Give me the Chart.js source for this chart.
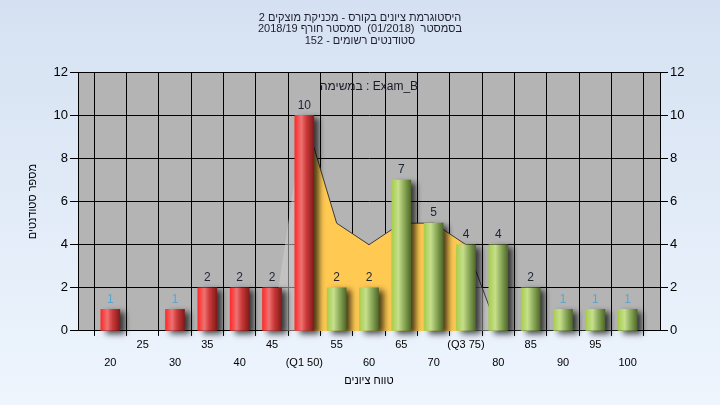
<!DOCTYPE html>
<html>
<head>
<meta charset="utf-8">
<script src="https://cdn.jsdelivr.net/npm/chart.js@4/dist/chart.umd.min.js"></script>
<style>
	body { margin: 0; }
	#wrap { width: 720px; height: 405px; background: linear-gradient(#d5e1f2, #eef5fd); }
</style>
</head>
<body>
<div id="wrap"><canvas id="canvas"></canvas></div>
<script>
// grade buckets and number of students in each
var scores = [20, 25, 30, 35, 40, 45, 50, 55, 60, 65, 70, 75, 80, 85, 90, 95, 100];
var counts = [1, 0, 1, 2, 2, 2, 10, 2, 2, 7, 5, 4, 4, 2, 1, 1, 1];
// background curve (yellow between Q1 and Q3)
var curve = [0, 0, 0, 0, 0, 0, 10, 5, 4, 5, 5, 4, 0, 0, 0, 0, 0];
var Q1 = 50, Q3 = 75;
var xMin = 15, xMax = 105, xStep = 5;
var yMax = 12, yStep = 2;

var titleLines = [
	'היסטוגרמת ציונים בקורס - מכניקת מוצקים 2',
	'בסמסטר  (01/2018)  סמסטר חורף 2018/19',
	'סטודנטים רשומים - 152'
];
var xTitle = 'טווח ציונים';
var yTitle = 'מספר סטודנטים';
var examText = 'במשימה : Exam_B';

var FONT = "'Liberation Sans', Arial, sans-serif";

function tickText(v) {
	if (v <= xMin || v >= xMax) return '';
	var t = String(v);
	if (v == Q1) t = '(Q1 ' + v + ')';
	if (v == Q3) t = '(Q3 ' + v + ')';
	// staggered rows like the original
	if ((v / xStep) % 2 == 1) return t;
	return ['', t];
}

function barFill(c) {
	var chart = c.chart;
	if (!chart.chartArea || c.dataIndex === undefined) return '#e03030';
	var v = scores[c.dataIndex];
	var x = chart.scales.x.getPixelForValue(v);
	var g = chart.ctx.createLinearGradient(x - 10, 0, x + 10, 0);
	if (v <= Q1) {
		g.addColorStop(0, '#ff2626');
		g.addColorStop(0.35, '#ee7272');
		g.addColorStop(0.6, '#cc3a3a');
		g.addColorStop(1, '#7d1818');
	} else {
		g.addColorStop(0, '#a6cc48');
		g.addColorStop(0.35, '#c6df8c');
		g.addColorStop(0.65, '#8aa858');
		g.addColorStop(1, '#4b6426');
	}
	return g;
}

var plotBg = {
	id: 'plotBg',
	beforeDraw: function(chart) {
		var a = chart.chartArea, ctx = chart.ctx;
		ctx.save();
		ctx.fillStyle = '#b4b4b4';
		ctx.fillRect(a.left, a.top, a.right - a.left, a.bottom - a.top);
		ctx.restore();
	}
};

var barShadow = {
	id: 'barShadow',
	beforeDatasetDraw: function(chart, args) {
		if (args.index != 0) return;
		var ctx = chart.ctx;
		ctx.save();
		ctx.shadowColor = 'rgba(0,0,0,0.7)';
		ctx.shadowBlur = 6;
		ctx.shadowOffsetX = 5;
		ctx.shadowOffsetY = 3;
	},
	afterDatasetDraw: function(chart, args) {
		if (args.index != 0) return;
		chart.ctx.restore();
	}
};

var texts = {
	id: 'texts',
	afterDatasetsDraw: function(chart) {
		var ctx = chart.ctx;
		var a = chart.chartArea;
		var cx = (a.left + a.right) / 2;
		var meta = chart.getDatasetMeta(0);
		ctx.save();
		ctx.font = '12px ' + FONT;
		ctx.textAlign = 'center';
		ctx.textBaseline = 'bottom';
		meta.data.forEach(function(bar, i) {
			if (!counts[i]) return;
			ctx.fillStyle = counts[i] == 1 ? '#5aa6cc' : '#1c2433';
			ctx.fillText(String(counts[i]), bar.x, bar.y - 4);
		});
		ctx.textBaseline = 'middle';
		// exam name at top of plot
		ctx.fillStyle = '#1a1a2a';
		ctx.fillText(examText, cx, a.top + 14);
		// title
		ctx.font = '11px ' + FONT;
		ctx.fillStyle = '#1e1e2e';
		titleLines.forEach(function(t, i) {
			ctx.fillText(t, chart.width / 2, 17.5 + i * 11.8);
		});
		// axis titles
		ctx.fillStyle = '#000';
		ctx.fillText(xTitle, cx, 381);
		ctx.translate(33, (a.top + a.bottom) / 2);
		ctx.rotate(-Math.PI / 2);
		ctx.fillText(yTitle, 0, 0);
		ctx.restore();
	}
};

var ctx = document.getElementById('canvas');
new Chart(ctx, {
	type: 'bar',
	data: {
		datasets: [{
			type: 'bar',
			data: scores.map(function(s, i) { return {x: s, y: counts[i] || null}; }),
			backgroundColor: barFill,
			barThickness: 19,
			clip: false,
			order: 1
		}, {
			type: 'line',
			data: scores.map(function(s, i) { return {x: s, y: curve[i]}; }),
			borderColor: '#3a3a3a',
			borderWidth: 1,
			pointRadius: 0,
			tension: 0,
			fill: 'origin',
			backgroundColor: 'rgba(206,206,206,0.55)',
			segment: {
				backgroundColor: function(c) {
					var x0 = scores[c.p0DataIndex], x1 = scores[c.p1DataIndex];
					return (x0 >= Q1 && x1 <= Q3) ? '#ffc952' : 'rgba(206,206,206,0.55)';
				},
				borderColor: function(c) {
					return scores[c.p1DataIndex] <= Q1 ? 'rgba(0,0,0,0)' : '#3a3a3a';
				}
			},
			order: 2
		}]
	},
	options: {
		responsive: true,
		maintainAspectRatio: false,
		animation: false,
		layout: { padding: { left: 20, right: 0, top: 0, bottom: 33 } },
		plugins: {
			legend: { display: false },
			tooltip: { enabled: false },
			// only keeps the room at the top, the lines are drawn by the texts plugin
			title: {
				display: true,
				text: titleLines.map(function() { return ''; }),
				font: { family: FONT, size: 11, lineHeight: 1.1 },
				padding: { top: 12, bottom: 24 }
			}
		},
		scales: {
			x: {
				type: 'linear',
				min: xMin,
				max: xMax,
				offset: false,
				ticks: {
					stepSize: xStep,
					autoSkip: false,
					maxRotation: 0,
					padding: 0,
					color: '#000',
					font: { family: FONT, size: 11, lineHeight: 1.64 },
					callback: tickText
				},
				grid: { color: '#000', tickLength: 5 },
				border: { color: '#000' }
			},
			y: {
				min: 0,
				max: yMax,
				ticks: { stepSize: yStep, padding: 2, color: '#000', font: { family: FONT, size: 13 } },
				grid: { color: '#000', tickLength: 8 },
				border: { color: '#000' },
				afterFit: function(s) { s.width = 58; }
			},
			y2: {
				type: 'linear',
				position: 'right',
				min: 0,
				max: yMax,
				ticks: { stepSize: yStep, padding: 2, color: '#000', font: { family: FONT, size: 13 } },
				grid: { drawOnChartArea: false, color: '#000', tickLength: 8 },
				border: { color: '#000' },
				afterFit: function(s) { s.width = 60; }
			}
		}
	},
	plugins: [plotBg, barShadow, texts]
});
</script>
</body>
</html>
